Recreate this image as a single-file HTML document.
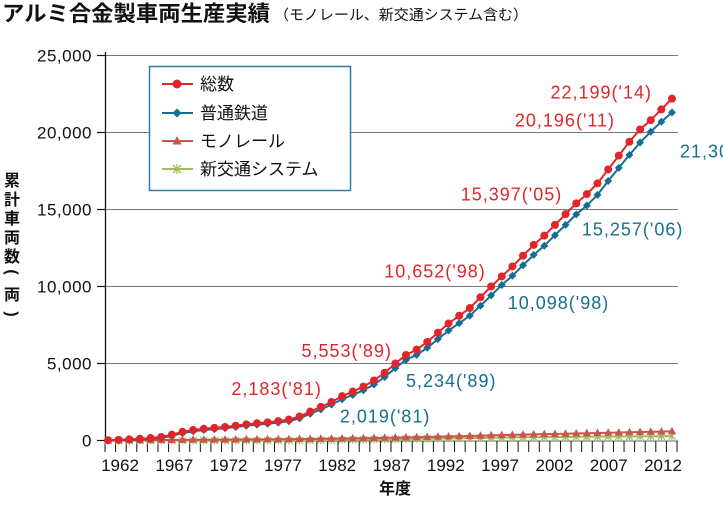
<!DOCTYPE html>
<html><head><meta charset="utf-8"><style>
body{margin:0;background:#fff;}
svg text{font-family:"Liberation Sans","Noto Sans CJK JP",sans-serif;}
</style></head><body>
<svg width="723" height="500" viewBox="0 0 723 500" xmlns="http://www.w3.org/2000/svg">
<text x="2" y="21" font-size="21.5" font-weight="bold" fill="#111" textLength="268" lengthAdjust="spacingAndGlyphs">アルミ合金製車両生産実績</text>
<text x="274" y="20" font-size="14.5" fill="#111" textLength="254" lengthAdjust="spacingAndGlyphs">（モノレール、新交通システム含む）</text>
<g id="grid"></g>
<g id="axes"></g>
<g id="series"></g>
<g id="labels"></g>
<g font-size="16" font-weight="bold" fill="#111" text-anchor="middle">
<text x="12" y="186">累</text><text x="12" y="205">計</text><text x="12" y="224">車</text><text x="12" y="243">両</text><text x="12" y="262">数</text>
<text x="12" y="272" transform="rotate(90 12 272)" dy="5">(</text><text x="12" y="300">両</text><text x="12" y="314" transform="rotate(90 12 314)" dy="5">)</text>
</g>
<text x="395" y="494" font-size="16" font-weight="bold" text-anchor="middle" fill="#111">年度</text>
<g>
<rect x="149.5" y="66.5" width="201" height="124" fill="#fff" stroke="#2f7fa6" stroke-width="1.5"/>
<g><line x1="162" y1="84" x2="193" y2="84" stroke="#e0262b" stroke-width="2"/><circle cx="177" cy="84" r="4.5" fill="#e0262b"/><text x="200" y="90" font-size="17" fill="#111">総数</text></g>
<g><line x1="162" y1="113" x2="193" y2="113" stroke="#186e92" stroke-width="2"/><path d="M177 108.5 L181.5 113 L177 117.5 L172.5 113Z" fill="#186e92"/><text x="200" y="119" font-size="17" fill="#111">普通鉄道</text></g>
<g><line x1="162" y1="141" x2="193" y2="141" stroke="#c9554f" stroke-width="2"/><path d="M177 136 L181.5 144.5 L172.5 144.5Z" fill="#c9554f"/><text x="200" y="147" font-size="17" fill="#111">モノレール</text></g>
<g><line x1="162" y1="169" x2="193" y2="169" stroke="#9cbf5a" stroke-width="2"/><path d="M173 165L181 173M181 165L173 173M177 164V174" stroke="#9cbf5a" stroke-width="1.3"/><text x="200" y="175" font-size="17" fill="#111">新交通システム</text></g>
</g>
</svg>
<script>
const years=[1961,1962,1963,1964,1965,1966,1967,1968,1969,1970,1971,1972,1973,1974,1975,1976,1977,1978,1979,1980,1981,1982,1983,1984,1985,1986,1987,1988,1989,1990,1991,1992,1993,1994,1995,1996,1997,1998,1999,2000,2001,2002,2003,2004,2005,2006,2007,2008,2009,2010,2011,2012,2013,2014];
const totalValues=[20,40,70,110,160,230,380,560,680,760,820,880,960,1050,1120,1180,1260,1360,1560,1880,2183,2500,2880,3180,3500,3900,4400,5000,5553,5900,6400,7000,7600,8100,8600,9300,10000,10652,11300,12000,12700,13300,14000,14700,15397,16000,16700,17600,18500,19400,20196,20800,21500,22199];
const railValues=[0,10,30,60,100,160,300,480,600,680,740,800,880,960,1030,1090,1160,1250,1440,1740,2019,2330,2680,2960,3260,3640,4120,4700,5234,5560,6020,6580,7140,7620,8100,8750,9420,10098,10700,11380,12050,12650,13330,14000,14680,15257,15950,16850,17700,18550,19350,20050,20700,21300];
const monoValues=[5,10,15,20,25,30,35,40,45,50,55,60,65,70,75,80,85,90,95,100,110,120,130,140,150,160,175,190,200,215,230,245,260,275,290,310,330,350,365,380,395,410,425,440,455,470,490,505,520,535,550,565,580,600];
const agtValues=[0,0,0,0,0,0,0,0,0,0,0,0,0,0,0,0,0,0,0,10,20,30,40,50,60,70,80,90,100,110,120,130,140,150,160,170,180,190,200,210,215,220,225,230,235,240,250,255,260,265,270,275,280,290];
const yTicks=[0,5000,10000,15000,20000,25000];
const yTickLabels=["0","5,000","10,000","15,000","20,000","25,000"];
const xTickYears=[1962,1967,1972,1977,1982,1987,1992,1997,2002,2007,2012];
const totalNoteYears=[1981,1989,1998,2005,2011,2014];
const totalNoteValues=[2183,5553,10652,15397,20196,22199];
const totalNoteTexts=["2,183('81)","5,553('89)","10,652('98)","15,397('05)","20,196('11)","22,199('14)"];
const totalNoteOffsets=[[1,-12],[-14,2],[-16,1],[-14,-3],[-25,-3],[-20,0]];
const railNoteYears=[1981,1989,1998,2006,2014];
const railNoteValues=[2019,5234,10098,15257,21300];
const railNoteTexts=["2,019('81)","5,234('89)","10,098('98)","15,257('06)","21,300('14)"];
const railNoteOffsets=[[19,13],[0,27],[6,24],[-5,30],[8,45]];
const NS="http://www.w3.org/2000/svg";
const X0=108,X1=672,Y0=440.5,Y1=55.5;
function x(yr){return X0+(yr-1961)*(X1-X0)/(2014-1961);}
function y(v){return Y0-v*(Y0-Y1)/25000;}
function mk(tag,attrs,parent){const e=document.createElementNS(NS,tag);for(const k in attrs)e.setAttribute(k,attrs[k]);(typeof parent==='string'?document.getElementById(parent):parent).appendChild(e);return e;}
yTicks.forEach((t,i)=>{
  if(t>0){const g=mk('line',{x1:105,x2:678,y1:y(t),y2:y(t),stroke:'#777','stroke-width':1},'grid');
  
  }
  const tk=mk('line',{x1:97,x2:106,y1:y(t),y2:y(t),stroke:'#111','stroke-width':1.2},'axes');
  
  
  const tl=mk('text',{x:92,y:y(t)+6,'font-size':17,'letter-spacing':0.5,'text-anchor':'end',fill:'#111'},'axes');tl.textContent=yTickLabels[i];
  
  
});
const ya=mk('line',{x1:105.5,x2:105.5,y1:52,y2:441,stroke:'#111','stroke-width':1.3},'axes');


const xa=mk('line',{x1:105,x2:678,y1:441,y2:441,stroke:'#888','stroke-width':1.3},'axes');


for(let i=0;i<=years.length;i++){
  const xx=105+i*(677-105)/years.length;
  const t=mk('line',{x1:xx,x2:xx,y1:441,y2:452,stroke:'#111','stroke-width':1},'axes');
  
  
}
xTickYears.forEach(yr=>{
  const t=mk('text',{x:120+(yr-1962)*10.86,y:471,'font-size':17,'text-anchor':'middle',fill:'#111'},'axes');t.textContent=yr;
  
  
});
function series(vals,color,shape,name){
  const g=mk('g',{},'series');
  
  
  mk('polyline',{points:vals.map((v,i)=>x(years[i])+','+y(v)).join(' '),fill:'none',stroke:color,'stroke-width':2},g);
  vals.forEach((v,i)=>{const cx=x(years[i]),cy=y(v);let m;
    if(shape==='c')m=mk('circle',{cx:cx,cy:cy,r:4,fill:color},g);
    else if(shape==='d')m=mk('path',{d:`M${cx} ${cy-4}L${cx+4} ${cy}L${cx} ${cy+4}L${cx-4} ${cy}Z`,fill:color},g);
    else if(shape==='t')m=mk('path',{d:`M${cx} ${cy-4.5}L${cx+4} ${cy+3}L${cx-4} ${cy+3}Z`,fill:color},g);
    else m=mk('path',{d:`M${cx-3.5} ${cy-3.5}L${cx+3.5} ${cy+3.5}M${cx+3.5} ${cy-3.5}L${cx-3.5} ${cy+3.5}M${cx} ${cy-4}V${cy+4}`,stroke:color,'stroke-width':1.2},g);
    
    
  });
}
series(agtValues,'#9cbf5a','x','series-agt');
series(monoValues,'#c9554f','t','series-monorail');
series(railValues,'#186e92','d','series-rail');
series(totalValues,'#e0262b','c','series-total');
totalNoteYears.forEach((yr,i)=>{
  const o=totalNoteOffsets[i];
  const t=mk('text',{x:x(yr)+o[0],y:y(totalNoteValues[i])+o[1],'font-size':18,'letter-spacing':1,'text-anchor':'end',fill:'#e0262b'},'labels');t.textContent=totalNoteTexts[i];
  
  
});
railNoteYears.forEach((yr,i)=>{
  const o=railNoteOffsets[i];
  const t=mk('text',{x:x(yr)+o[0],y:y(railNoteValues[i])+o[1],'font-size':18,'letter-spacing':1,'text-anchor':'start',fill:'#186e92'},'labels');t.textContent=railNoteTexts[i];
  
  
});
</script>
</body></html>
